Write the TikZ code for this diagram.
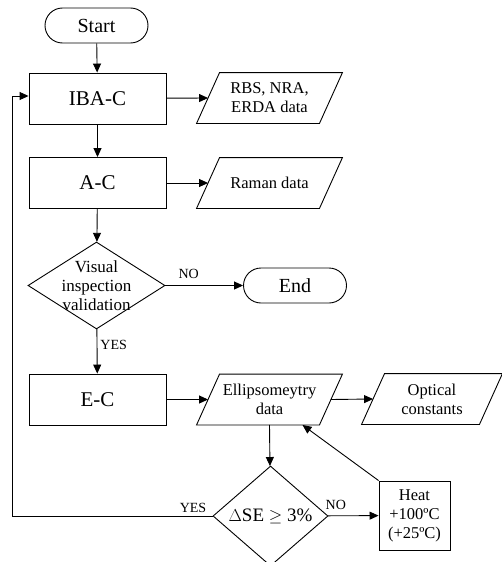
\documentclass[tikz,border=0pt]{standalone}
\usepackage{fontspec}
\setmainfont{Liberation Serif}
\usetikzlibrary{shapes.geometric,arrows.meta,calc}
\newcommand\pgram[1]{\draw ($(#1.north west)+(23,0)$) -- (#1.north east) -- ($(#1.south east)+(-23,0)$) -- (#1.south west) -- cycle;}
\begin{document}
\begin{tikzpicture}[x=1pt,y=-1pt,
  line width=0.9pt,
  arr/.style={-{Triangle[length=9pt,width=8pt]}},
  term/.style={draw,rectangle,rounded corners=17.5pt,minimum width=103pt,minimum height=35pt,inner sep=0,font=\fontsize{20}{22}\selectfont},
  proc/.style={draw,rectangle,minimum width=137pt,minimum height=51pt,inner sep=0,font=\fontsize{21}{24}\selectfont},
  io/.style={rectangle,minimum width=145pt,minimum height=50pt,inner sep=0,align=center,font=\fontsize{16.5}{19}\selectfont},
  dec/.style={draw,diamond,inner sep=0},
  txt/.style={inner sep=0,align=center,font=\fontsize{16.5}{19}\selectfont},
  lbl/.style={inner sep=0,font=\fontsize{14}{16}\selectfont}
]
\useasboundingbox (0,0) rectangle (502,562);

\node[term] (start) at (96.5,25.5) {Start};
\node[proc] (iba) at (97.5,98.5) {IBA-C};
\node[io] (rbs) at (269.5,98) {RBS, NRA,\\ERDA data};
\node[proc] (ac) at (97.5,183) {A-C};
\node[io] (raman) at (269.5,183) {Raman data};
\node[dec,minimum width=137pt,minimum height=87pt] (vis) at (96.5,285.5) {};
\node[txt,font=\fontsize{17}{19}\selectfont] (vistxt) at (96.5,285.5) {Visual\\inspection\\validation};
\node[term] (end) at (295,285.5) {End};
\node[proc] (ec) at (97.5,399.5) {E-C};
\node[io] (ell) at (269.5,399.5) {Ellipsomeytry\\data};
\node[io,minimum width=140pt] (opt) at (432,399) {Optical\\constants};
\node[dec,minimum width=115pt,minimum height=100pt,font=\fontsize{19}{22}\selectfont] (dse) at (270.5,516) {$\Delta$SE $\geq$ 3\%};
\node[draw,rectangle,minimum width=71pt,minimum height=69pt,inner sep=0,txt] (heat) at (414.5,515.5) {Heat\\+100ºC\\(+25ºC)};

\pgram{rbs}
\pgram{raman}
\pgram{ell}
\pgram{opt}

\coordinate (fbx) at (12,0);
\path (ell.center) ++(33,0) coordinate (ellx);

\draw[arr] (start) -- (iba);
\draw[arr] (iba) -- ($(rbs.west)+(11.5,0)$);
\draw[arr] (iba) -- (ac);
\draw[arr] (ac) -- ($(raman.west)+(11.5,0)$);
\draw[arr] (ac) -- (vis);
\draw[arr] (vis) -- node[lbl,pos=0.3,above=6pt] (no1) {NO} (end);
\draw[arr] (vis) -- node[lbl,pos=0.35,right=3pt] (yes1) {YES} (ec);
\draw[arr] (ec) -- ($(ell.west)+(11.5,0)$);
\draw[arr] ($(ell.east)+(-11.5,0)$) -- ($(opt.west)+(11.5,0)$);
\draw[arr] (ell.south) -- (dse);
\draw[arr] (dse) -- node[lbl,pos=0.15,above=6pt] (no2) {NO} (heat);
\draw[arr] (heat.north west) -- (ellx |- ell.south);
\draw[arr] (dse.west) -- (dse.west -| fbx) |- ([yshift=2.5pt]iba.west);
\node[lbl] (yes2) at (193,508) {YES};
\end{tikzpicture}
\end{document}
